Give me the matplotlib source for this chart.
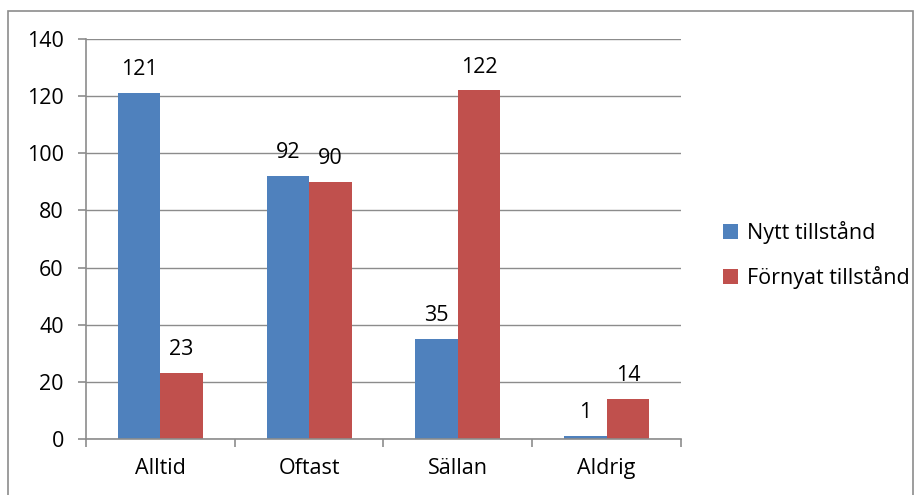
import matplotlib.pyplot as plt
import numpy as np
from matplotlib.patches import Rectangle

# Data
categories = ["Alltid", "Oftast", "Sällan", "Aldrig"]
nytt = [121, 92, 35, 1]
fornyat = [23, 90, 122, 14]
series_names = ["Nytt tillstånd", "Förnyat tillstånd"]
colors = ["#4F81BD", "#C0504D"]

plt.rcParams['font.family'] = ['Open Sans', 'DejaVu Sans']
fs = 15.5

fig = plt.figure(figsize=(9.2, 4.95), dpi=100)
ax = fig.add_axes([86 / 920, 1 - 439 / 495, (681 - 86) / 920, (439 - 39) / 495])

# outer chart border
fig.patches.append(Rectangle((8 / 920, -0.05), (913 - 8) / 920, 1 - 11 / 495 + 0.05,
                             transform=fig.transFigure, fill=False,
                             edgecolor="#8c8c8c", linewidth=1.2))

x = np.arange(len(categories))
w = 0.285
b1 = ax.bar(x - w / 2, nytt, w, color=colors[0], label=series_names[0])
b2 = ax.bar(x + w / 2, fornyat, w, color=colors[1], label=series_names[1])

for bars in (b1, b2):
    for rect in bars:
        h = rect.get_height()
        ax.text(rect.get_x() + rect.get_width() / 2, h + 4.5, f"{int(h)}",
                ha="center", va="bottom", fontsize=fs)

ax.set_xlim(-0.5, len(categories) - 0.5)
ax.set_ylim(0, 140)
ax.set_yticks(range(0, 141, 20))
ax.yaxis.grid(True, color="#8c8c8c", linewidth=1)
ax.set_axisbelow(True)

ax.set_xticks(x)
ax.set_xticklabels(categories, fontsize=fs)
ax.tick_params(axis="x", length=0, pad=14)
ax.set_xticks(np.arange(-0.5, len(categories)), minor=True)
ax.tick_params(axis="x", which="minor", length=6, color="#8c8c8c", width=1.2, direction="out")
ax.tick_params(axis="y", labelsize=fs, length=6, color="#8c8c8c", width=1.2, pad=10)

for s in ["top", "right"]:
    ax.spines[s].set_visible(False)
for s in ["left", "bottom"]:
    ax.spines[s].set_color("#8c8c8c")
    ax.spines[s].set_linewidth(1.2)

ax.legend(loc="center left", bbox_to_anchor=(704 / 920, 240 / 495),
          bbox_transform=fig.transFigure, frameon=False, fontsize=fs,
          handlelength=0.7, handleheight=0.7, handletextpad=0.4, labelspacing=1.0)

fig.savefig("out.png", dpi=100)
